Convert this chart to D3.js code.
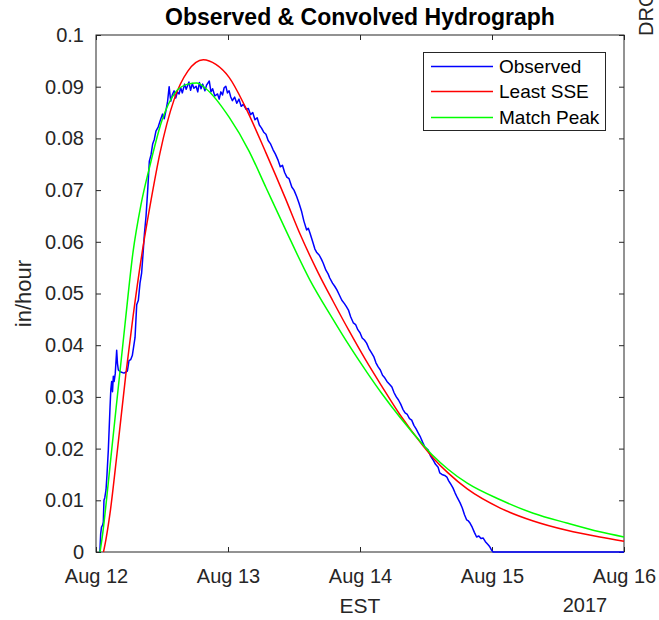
<!DOCTYPE html>
<html>
<head>
<meta charset="utf-8">
<script src="https://cdn.jsdelivr.net/npm/d3@7"></script>
<style>
  html, body { margin: 0; padding: 0; background: #fff; }
  svg { display: block; font-family: "Liberation Sans", Arial, Helvetica, sans-serif; }
</style>
</head>
<body>
<svg id="chart" width="659" height="620"></svg>
<script>
// ---------------- DATA ----------------
const startDate = new Date(2017, 7, 12, 0, 0, 0);   // Aug 12 2017, 00:00 EST
const endDate = new Date(2017, 7, 16, 0, 0, 0);

const xTickDays = [0, 1, 2, 3, 4];
const xTickLabels = ["Aug 12", "Aug 13", "Aug 14", "Aug 15", "Aug 16"];
const yTicks = [0, 0.01, 0.02, 0.03, 0.04, 0.05, 0.06, 0.07, 0.08, 0.09, 0.1];
const yTickLabels = ["0", "0.01", "0.02", "0.03", "0.04", "0.05", "0.06", "0.07", "0.08", "0.09", "0.1"];

const seriesNames = ["Observed", "Least SSE", "Match Peak"];
const seriesColors = ["#0000ff", "#ff0000", "#00ff00"];

// Observed (hours since Aug 12 00:00, in/hour)
const obsHours = [0.7,0.85,1.0,1.2,1.33,1.45,1.6,1.82,2.0,2.24,2.4,2.55,2.7,2.85,3.0,3.15,3.3,3.5,3.76,3.9,4.06,4.5,5.1,5.7,6.0,6.3,6.6,7.1,7.4,7.7,8.0,8.3,8.6,8.8,9.1,9.4,9.7,10.0,10.3,10.6,10.9,11.3,11.7,12.1,12.4,12.7,13.0,13.3,13.5,13.6,13.9,14.2,14.5,14.8,15.1,15.4,15.7,16.1,16.4,16.9,17.2,17.5,17.8,18.2,18.5,18.8,19.1,19.4,19.8,20.1,20.6,20.9,21.2,21.6,22.1,22.4,22.7,23.0,23.3,23.6,23.9,24.2,24.5,24.8,25.2,25.6,26.0,26.4,26.8,27.3,27.7,28.1,28.5,28.9,29.3,29.7,30.1,30.5,30.9,31.3,31.7,32.2,32.6,33.1,33.5,33.9,34.3,34.7,35.1,35.6,36.0,36.5,36.9,37.4,37.8,38.3,38.6,38.9,39.4,39.8,40.1,40.6,41.0,41.3,41.8,42.2,42.5,43.0,43.4,43.8,44.2,44.7,45.2,45.5,45.9,46.3,46.8,47.2,47.6,48.0,48.4,48.8,49.2,49.6,50.1,50.5,50.9,51.3,51.7,52.1,52.5,52.9,53.4,53.8,54.2,54.6,55.0,55.4,55.8,56.2,56.6,57.0,57.4,57.8,58.2,58.6,59.0,59.4,59.8,60.1,60.4,60.8,61.3,61.7,62.2,62.5,62.9,63.4,63.8,64.1,64.4,64.9,65.3,65.7,66.2,66.6,67.0,67.4,67.7,68.0,68.4,68.8,69.2,69.6,70.0,70.4,70.8,71.3,71.6,71.9,72.2,96];
const obsValues = [0,0.0035,0.0048,0.0052,0.0058,0.0100,0.0105,0.0120,0.0150,0.0197,0.0240,0.0280,0.0315,0.0330,0.0310,0.0340,0.0330,0.0345,0.0390,0.0365,0.0352,0.0348,0.0346,0.0350,0.0370,0.0372,0.0380,0.0415,0.0478,0.0487,0.0520,0.0540,0.0584,0.0615,0.0650,0.0700,0.0756,0.0768,0.0789,0.0798,0.0814,0.0822,0.0835,0.0847,0.0838,0.0853,0.0870,0.0900,0.0880,0.0872,0.0885,0.0892,0.0878,0.0890,0.0886,0.0898,0.0888,0.0905,0.0895,0.0909,0.0893,0.0906,0.0897,0.0901,0.0890,0.0908,0.0896,0.0905,0.0892,0.0903,0.0911,0.0890,0.0896,0.0882,0.0886,0.0876,0.0890,0.0884,0.0898,0.0901,0.0888,0.0892,0.0880,0.0873,0.0880,0.0868,0.0876,0.0862,0.0866,0.0856,0.0858,0.0846,0.0850,0.0836,0.0840,0.0826,0.0820,0.0812,0.0808,0.0796,0.0790,0.0778,0.0770,0.0758,0.0745,0.0748,0.0734,0.0725,0.0722,0.0706,0.0700,0.0687,0.0675,0.0658,0.0640,0.0623,0.0626,0.0617,0.0600,0.0586,0.0580,0.0574,0.0566,0.0559,0.0545,0.0538,0.0530,0.0520,0.0514,0.0507,0.0498,0.0487,0.0480,0.0475,0.0468,0.0455,0.0443,0.0440,0.0430,0.0424,0.0414,0.0410,0.0404,0.0394,0.0385,0.0378,0.0366,0.0358,0.0352,0.0342,0.0337,0.0330,0.0324,0.0319,0.0308,0.0300,0.0294,0.0286,0.0276,0.0269,0.0266,0.0258,0.0255,0.0245,0.0238,0.0230,0.0222,0.0212,0.0203,0.0200,0.0197,0.0186,0.0178,0.0170,0.0164,0.0153,0.0150,0.0148,0.0145,0.0138,0.0133,0.0124,0.0114,0.0105,0.0095,0.0085,0.0072,0.0062,0.0060,0.0056,0.0048,0.0038,0.0029,0.0031,0.0026,0.0027,0.0020,0.0014,0.0010,0.0004,0,0];

// Least SSE convolved hydrograph
const sseHours = [1.36,1.82,2.55,3.82,5.45,6.73,8.55,10.0,11.6,14.2,16.7,19.5,21.8,24.2,27.1,30.9,34.4,37.1,40.4,43.1,46.0,49.0,52.0,55.3,59.5,61.3,64.0,67.5,73.5,79.5,85.6,91.6,96];
const sseValues = [0,0.0025,0.0075,0.019,0.0346,0.0455,0.059,0.068,0.077,0.0875,0.093,0.0952,0.0943,0.0918,0.0862,0.0772,0.0685,0.0615,0.0540,0.0485,0.0428,0.0372,0.0320,0.0265,0.0205,0.0182,0.0153,0.0122,0.0085,0.0060,0.0042,0.0029,0.0021];

// Match Peak convolved hydrograph
const peakHours = [0.73,1.27,2.0,2.73,3.82,5.27,6.73,8.18,9.82,12.0,14.5,16.7,18.3,20.0,24.2,27.8,30.9,34.4,38.9,43.1,46.0,49.3,52.0,55.3,59.5,61.3,64.0,67.5,73.5,79.5,85.6,91.6,96];
const peakValues = [0,0.004,0.011,0.0185,0.0295,0.044,0.058,0.0672,0.0748,0.0835,0.089,0.0905,0.0907,0.0896,0.0841,0.0776,0.0705,0.0625,0.0526,0.0450,0.0400,0.0347,0.0306,0.0260,0.0207,0.0186,0.0160,0.0133,0.0101,0.0075,0.0056,0.0039,0.0029];

// ---------------- CHART ----------------
const svg = d3.select("#chart");
const axisColor = "#262626";
const mLeft = 96, mRight = 624, mTop = 35, mBottom = 552;

const hourToDate = h => new Date(startDate.getTime() + h * 3600 * 1000);

const x = d3.scaleTime().domain([startDate, endDate]).range([mLeft, mRight]);
const y = d3.scaleLinear().domain([0, 0.1]).range([mBottom, mTop]);

const toPoints = (hs, vs) => hs.map((h, i) => [hourToDate(h), vs[i]]);
const series = [
  toPoints(obsHours, obsValues),
  toPoints(sseHours, sseValues),
  toPoints(peakHours, peakValues)
];

svg.append("rect").attr("x", 0).attr("y", 0).attr("width", 659).attr("height", 620).attr("fill", "#fff");

const straight = d3.line().x(d => x(d[0])).y(d => y(d[1]));
const smooth = d3.line().x(d => x(d[0])).y(d => y(d[1])).curve(d3.curveMonotoneX);

svg.append("defs").append("clipPath").attr("id", "clip")
  .append("rect").attr("x", mLeft).attr("y", mTop - 1).attr("width", mRight - mLeft + 1).attr("height", mBottom - mTop + 2);

// axes
const tickDates = xTickDays.map(d => hourToDate(d * 24));
const fontTick = 20;

const xAxis = d3.axisBottom(x).tickValues(tickDates)
  .tickFormat((d, i) => xTickLabels[i]).tickSizeInner(-5).tickSizeOuter(0).tickPadding(17);
const gx = svg.append("g").attr("transform", `translate(0,${mBottom})`).call(xAxis);
const xTopAxis = d3.axisTop(x).tickValues(tickDates).tickFormat("").tickSizeInner(-5).tickSizeOuter(0);
const gxt = svg.append("g").attr("transform", `translate(0,${mTop})`).call(xTopAxis);

const yAxis = d3.axisLeft(y).tickValues(yTicks)
  .tickFormat((d, i) => yTickLabels[i]).tickSizeInner(-5).tickSizeOuter(0).tickPadding(12);
const gy = svg.append("g").attr("transform", `translate(${mLeft},0)`).call(yAxis);
const yRightAxis = d3.axisRight(y).tickValues(yTicks).tickFormat("").tickSizeInner(-5).tickSizeOuter(0);
const gyr = svg.append("g").attr("transform", `translate(${mRight},0)`).call(yRightAxis);

[gx, gxt, gy, gyr].forEach(g => {
  g.select(".domain").remove();
  g.selectAll(".tick line").attr("stroke", axisColor).attr("stroke-width", 1);
  g.selectAll(".tick text").attr("fill", axisColor)
    .style("font-size", fontTick + "px")
    .style("font-family", "'Liberation Sans', Arial, sans-serif");
});

// box
svg.append("rect")
  .attr("x", mLeft).attr("y", mTop)
  .attr("width", mRight - mLeft).attr("height", mBottom - mTop)
  .attr("fill", "none").attr("stroke", axisColor).attr("stroke-width", 1);

// data lines
const plot = svg.append("g").attr("clip-path", "url(#clip)");
series.forEach((pts, i) => {
  plot.append("path")
    .attr("d", i === 0 ? straight(pts) : smooth(pts))
    .attr("fill", "none")
    .attr("stroke", seriesColors[i])
    .attr("stroke-width", 1.5)
    .attr("stroke-linejoin", "round");
});

// title & labels
svg.append("text").attr("x", 360).attr("y", 25).attr("text-anchor", "middle")
  .style("font-size", "23px").style("font-weight", "bold").attr("fill", "#000")
  .text("Observed & Convolved Hydrograph");

svg.append("text").attr("x", 360).attr("y", 613).attr("text-anchor", "middle")
  .style("font-size", "21px").attr("fill", axisColor).text("EST");

svg.append("text").attr("x", 585).attr("y", 612).attr("text-anchor", "middle")
  .style("font-size", "20px").attr("fill", axisColor).text("2017");

svg.append("text").attr("transform", `translate(31,${(mTop + mBottom) / 2}) rotate(-90)`)
  .attr("text-anchor", "middle")
  .style("font-size", "22px").attr("fill", axisColor).text("in/hour");

// partial label of neighbouring panel
svg.append("text").attr("transform", `translate(653,36) rotate(-90)`)
  .attr("text-anchor", "start")
  .style("font-size", "20px").attr("fill", axisColor).text("DRO");

// legend
const lg = svg.append("g");
lg.append("rect").attr("x", 423.5).attr("y", 52.5).attr("width", 182).attr("height", 78)
  .attr("fill", "#fff").attr("stroke", axisColor).attr("stroke-width", 1);
const legendY = [66.5, 91.5, 117.5];
seriesNames.forEach((name, i) => {
  lg.append("line").attr("x1", 431).attr("x2", 493).attr("y1", legendY[i]).attr("y2", legendY[i])
    .style("stroke", seriesColors[i]).style("stroke-width", "1.5px");
  lg.append("text").attr("x", 499).attr("y", legendY[i]).attr("dy", "0.35em")
    .style("font-size", "19px").attr("fill", "#000").text(name);
});
</script>
</body>
</html>
